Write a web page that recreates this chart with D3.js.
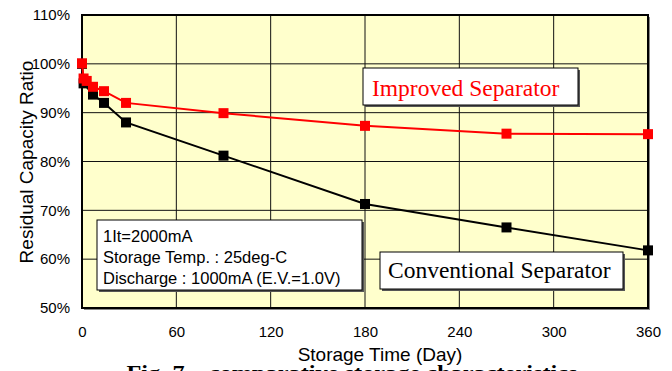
<!DOCTYPE html>
<html><head><meta charset="utf-8">
<script src="https://cdn.jsdelivr.net/npm/d3@7"></script>
<style>body{margin:0;background:#fff;overflow:hidden}</style>
</head><body>
<svg id="c" width="672" height="371"></svg>
<script>
const improvedDays = [0, 1, 3, 7, 14, 28, 90, 180, 270, 360];
const improvedVals = [100.1, 97.0, 96.5, 95.3, 94.4, 92.0, 89.9, 87.3, 85.7, 85.6];
const conventionalDays = [0, 1, 7, 14, 28, 90, 180, 270, 360];
const conventionalVals = [100.0, 96.0, 93.7, 92.0, 88.0, 81.2, 71.3, 66.5, 61.8];
const xTicks = [0, 60, 120, 180, 240, 300, 360];
const yTicks = [50, 60, 70, 80, 90, 100, 110];
const infoLines = ["1It=2000mA", "Storage Temp. : 25deg-C", "Discharge : 1000mA (E.V.=1.0V)"];

const SANS = "'Liberation Sans', Arial, sans-serif";
const SERIF = "'Liberation Serif', 'Times New Roman', serif";

const svg = d3.select("#c");
const L = 82, R = 648, T = 15, B = 308;
const x = d3.scaleLinear().domain([0, 360]).range([L, R]);
const y = d3.scaleLinear().domain([50, 110]).range([B, T]);

// shadow + background
svg.append("rect").attr("x", L+2).attr("y", T+2).attr("width", R-L).attr("height", B-T).attr("fill", "#888");
svg.append("rect").attr("x", L).attr("y", T).attr("width", R-L).attr("height", B-T).attr("fill", "#FFFFCC");

// grid
svg.append("g").selectAll("line").data(xTicks.slice(1, -1)).join("line")
  .attr("x1", d => x(d)).attr("x2", d => x(d)).attr("y1", T).attr("y2", B)
  .attr("stroke", "#111").attr("stroke-width", 1);
svg.append("g").selectAll("line").data(yTicks.slice(1, -1)).join("line")
  .attr("y1", d => y(d)).attr("y2", d => y(d)).attr("x1", L).attr("x2", R)
  .attr("stroke", "#111").attr("stroke-width", 1);

svg.append("rect").attr("x", L).attr("y", T).attr("width", R-L).attr("height", B-T)
  .attr("fill", "none").attr("stroke", "#000").attr("stroke-width", 2);

// axes
const yAxis = svg.append("g").attr("transform", `translate(${L},0)`)
  .call(d3.axisLeft(y).tickValues(yTicks).tickSize(0).tickPadding(12).tickFormat(d => d + "%"));
yAxis.select(".domain").remove();
yAxis.selectAll("text").attr("font-family", SANS).attr("font-size", 15).attr("fill", "#000");

const xAxis = svg.append("g").attr("transform", `translate(0,${B})`)
  .call(d3.axisBottom(x).tickValues(xTicks).tickSize(0).tickPadding(18));
xAxis.select(".domain").remove();
xAxis.selectAll("text").attr("font-family", SANS).attr("font-size", 15).attr("fill", "#000");

// titles
svg.append("text").attr("transform", `translate(33,${162}) rotate(-90)`).attr("text-anchor", "middle")
  .attr("font-family", SANS).attr("font-size", 19).text("Residual Capacity Ratio");
svg.append("text").attr("x", 380).attr("y", 361).attr("text-anchor", "middle")
  .attr("font-family", SANS).attr("font-size", 19).text("Storage Time (Day)");
svg.append("text").attr("x", 352).attr("y", 380).attr("text-anchor", "middle")
  .attr("font-family", SERIF).attr("font-weight", "bold").attr("font-size", 21)
  .attr("textLength", 451).attr("lengthAdjust", "spacingAndGlyphs")
  .text("Fig. 7  \u2013  comparative storage characteristics");

// series
const line = d3.line().x(d => x(d[0])).y(d => y(d[1]));
function drawSeries(days, vals, color) {
  const pts = days.map((d, i) => [d, vals[i]]);
  svg.append("path").datum(pts).attr("d", line).attr("fill", "none").attr("stroke", color).attr("stroke-width", 2);
  svg.append("g").selectAll("rect").data(pts).join("rect")
    .attr("x", d => x(d[0]) - 5).attr("y", d => y(d[1]) - 5).attr("width", 10).attr("height", 10).attr("fill", color);
}
drawSeries(conventionalDays, conventionalVals, "#000");
drawSeries(improvedDays, improvedVals, "#FF0000");

// label boxes
function box(x0, y0, w, h) {
  svg.append("rect").attr("x", x0+2).attr("y", y0+2).attr("width", w).attr("height", h).attr("fill", "#555");
  svg.append("rect").attr("x", x0).attr("y", y0).attr("width", w).attr("height", h).attr("fill", "#fff").attr("stroke", "#000").attr("stroke-width", 1);
}
box(97, 220, 265, 70);
svg.append("g").selectAll("text").data(infoLines).join("text")
  .attr("x", 103).attr("y", (d, i) => 242 + i * 21)
  .attr("font-family", SANS).attr("font-size", 16.5).text(d => d);

box(363, 68, 215, 37);
svg.append("text").attr("x", 372).attr("y", 96).attr("font-family", SERIF)
  .attr("font-size", 23.5).attr("fill", "#FF0000").text("Improved Separator");

box(380, 252, 243, 37);
svg.append("text").attr("x", 388).attr("y", 278).attr("font-family", SERIF)
  .attr("font-size", 23.5).attr("fill", "#000").text("Conventional Separator");
</script>
</body></html>
